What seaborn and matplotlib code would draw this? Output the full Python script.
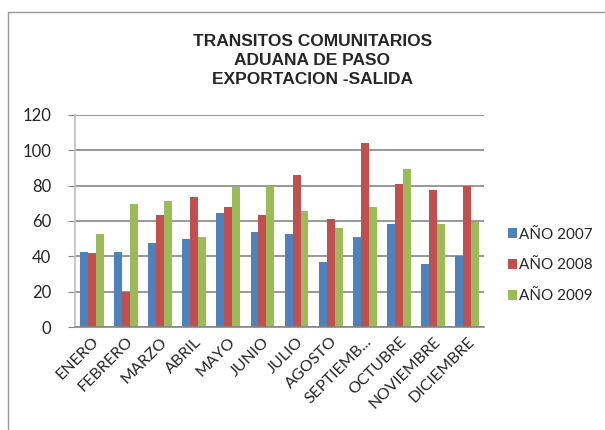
import pandas as pd
import numpy as np
import matplotlib
matplotlib.use('Agg')
import matplotlib.pyplot as plt
from matplotlib.lines import Line2D
import seaborn as sns

# datos
meses = ['ENERO', 'FEBRERO', 'MARZO', 'ABRIL', 'MAYO', 'JUNIO', 'JULIO',
         'AGOSTO', 'SEPTIEMB...', 'OCTUBRE', 'NOVIEMBRE', 'DICIEMBRE']
anio_2007 = [42.6, 42.6, 47.7, 50, 64.7, 54, 52.8, 37, 51.1, 58.5, 35.8, 40]
anio_2008 = [42, 20, 63.6, 73.8, 68.1, 63.6, 85.7, 60.8, 103.8, 80.6, 77.7, 80]
anio_2009 = [52.8, 69.8, 71.5, 51, 78.9, 79.8, 65.8, 56.2, 68.1, 89.6, 58.5, 59.6]
series = ['AÑO 2007', 'AÑO 2008', 'AÑO 2009']
colores = ['#4F81BD', '#C0504D', '#9BBB59']

df = pd.DataFrame({'Mes': meses * 3,
                   'Serie': np.repeat(series, len(meses)),
                   'Valor': anio_2007 + anio_2008 + anio_2009})

sns.set_style('white')
plt.rcParams['font.family'] = ['Lato', 'DejaVu Sans']

fig = plt.figure(figsize=(6.05, 4.3), dpi=100)
ax = fig.add_axes([0.124, 0.2395, 0.676, 0.4935])

sns.barplot(data=df, x='Mes', y='Valor', hue='Serie', palette=colores,
            width=0.7, gap=0, saturation=1, linewidth=0, ax=ax, legend=True)

ax.set_ylim(0, 120)
ax.set_yticks(range(0, 121, 20))
ax.set_xlim(-0.5, len(meses) - 0.5)
ax.yaxis.grid(True, color='#868686', linewidth=1.2)
ax.set_axisbelow(True)
ax.set_xlabel('')
ax.set_ylabel('')
for s in ['top', 'right']:
    ax.spines[s].set_visible(False)
ax.spines['left'].set_color('#bfbfbf')
ax.spines['left'].set_linewidth(1.2)
ax.spines['bottom'].set_color('#868686')
ax.spines['bottom'].set_linewidth(1.2)
ax.tick_params(axis='y', left=True, length=5, color='#868686', labelsize=12, pad=12)
ax.tick_params(axis='x', bottom=False, labelsize=11.5, pad=2)
plt.setp(ax.get_xticklabels(), rotation=45, ha='right', rotation_mode='anchor')

leg = ax.legend(loc='center left', bbox_to_anchor=(1.025, 0.29), frameon=False,
                fontsize=11, handlelength=0.6, handleheight=0.6,
                handletextpad=0.15, labelspacing=1.1)

fig.text(0.516, 0.92, 'TRANSITOS COMUNITARIOS\nADUANA DE PASO\nEXPORTACION -SALIDA',
         ha='center', va='top', fontsize=12.5, fontweight='bold',
         family='Liberation Sans', linespacing=1.3)

# marco del grafico
fig.add_artist(Line2D([8 / 605, 1], [1 - 12 / 430, 1 - 12 / 430], color='#9a9a9a', lw=1))
fig.add_artist(Line2D([8 / 605, 8 / 605], [0, 1 - 12 / 430], color='#9a9a9a', lw=1))

fig.savefig('out.png', dpi=100)
